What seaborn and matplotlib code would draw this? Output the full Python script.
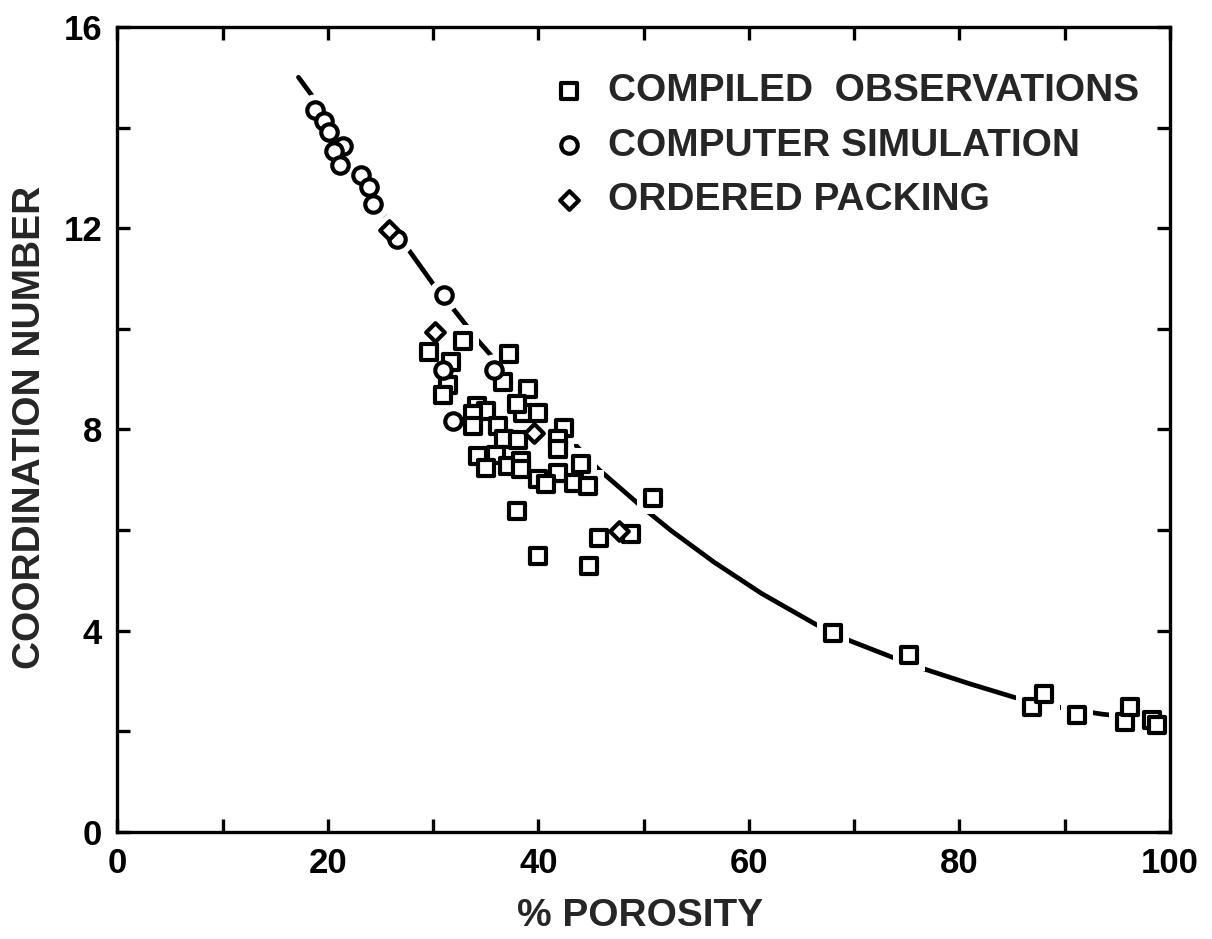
import matplotlib
matplotlib.use("Agg")
import matplotlib.pyplot as plt
import seaborn as sns

# ---------------- data ----------------
obs_x = [29.6, 32.8, 31.7, 31.4, 30.9, 37.2, 36.6, 39.0, 34.2, 35.0,
         33.8, 33.8, 36.2, 38.5, 40.0, 38.0, 42.4, 41.9, 41.9, 36.7,
         38.1, 34.3, 36.0, 35.0, 37.1, 38.3, 38.3, 44.0, 41.9, 40.0,
         40.7, 43.4, 44.7, 50.9, 38.0, 45.8, 48.8, 40.0, 44.8,
         68.0, 75.2, 86.9, 88.0, 91.2, 95.7, 96.2, 98.3, 98.8]
obs_y = [9.54, 9.76, 9.35, 8.89, 8.69, 9.49, 8.95, 8.81, 8.46, 8.36,
         8.30, 8.06, 8.06, 8.32, 8.32, 8.51, 8.02, 7.82, 7.62, 7.82,
         7.80, 7.47, 7.50, 7.23, 7.27, 7.37, 7.21, 7.31, 7.13, 7.01,
         6.91, 6.93, 6.87, 6.63, 6.38, 5.84, 5.92, 5.49, 5.29,
         3.96, 3.52, 2.48, 2.75, 2.32, 2.18, 2.48, 2.22, 2.12]

sim_x = [18.8, 19.6, 20.1, 21.4, 20.6, 21.1, 23.1, 23.9, 24.3, 26.6,
         31.0, 30.9, 35.8, 31.9]
sim_y = [14.34, 14.14, 13.92, 13.64, 13.54, 13.25, 13.05, 12.81, 12.48, 11.78,
         10.67, 9.19, 9.19, 8.16]

ord_x = [25.8, 30.2, 39.6, 47.7]
ord_y = [11.96, 9.94, 7.92, 5.98]

curve_x = [17.2, 18.5, 20.5, 22.5, 24.3, 25.3, 27.7, 30.2, 31.9, 33.1,
           34.2, 35.8, 45.7, 50.0, 52.6, 56.7, 61.2, 66.4, 69.6,
           73.4, 76.2, 80.9, 85.3, 88.8, 93.6, 97.5]
curve_y = [15.0, 14.63, 13.88, 13.13, 12.45, 12.28, 11.56, 10.83, 10.40, 10.08,
           9.78, 9.40, 7.21, 6.43, 5.99, 5.36, 4.74, 4.12, 3.80,
           3.49, 3.27, 2.95, 2.67, 2.50, 2.34, 2.26]

labels = ["COMPILED  OBSERVATIONS", "COMPUTER SIMULATION", "ORDERED PACKING"]
xticks = list(range(0, 101, 10))
xticklabels = ["0", "", "20", "", "40", "", "60", "", "80", "", "100"]
yticks = list(range(0, 17, 2))
yticklabels = ["0", "", "4", "", "8", "", "12", "", "16"]

# ---------------- style ----------------
sns.set_style("ticks")
plt.rcParams["font.family"] = ["Liberation Sans", "DejaVu Sans"]
plt.rcParams["font.weight"] = "bold"

fig = plt.figure(figsize=(12.12, 9.39), dpi=100)
ax = fig.add_axes([0.0969, 0.114, 0.8684, 0.8573])

LW_EDGE = 3.0
# curve
sns.lineplot(x=curve_x, y=curve_y, sort=False, estimator=None, color="black",
             linewidth=3.4, ax=ax, zorder=1.5)

# white halos that break the curve around the markers
sns.scatterplot(x=obs_x, y=obs_y, marker="s", s=500, color="white",
                edgecolor="white", linewidth=0, ax=ax, zorder=1.8, legend=False)
sns.scatterplot(x=sim_x, y=sim_y, marker="o", s=540, color="white",
                edgecolor="white", linewidth=0, ax=ax, zorder=1.8, legend=False)
sns.scatterplot(x=ord_x, y=ord_y, marker="D", s=380, color="white",
                edgecolor="white", linewidth=0, ax=ax, zorder=1.8, legend=False)

# markers
sns.scatterplot(x=obs_x, y=obs_y, marker="s", s=135, color="white",
                edgecolor="black", linewidth=LW_EDGE, ax=ax, zorder=2.1,
                label=labels[0])
sns.scatterplot(x=sim_x, y=sim_y, marker="o", s=140, color="white",
                edgecolor="black", linewidth=LW_EDGE, ax=ax, zorder=2.1,
                label=labels[1])
sns.scatterplot(x=ord_x, y=ord_y, marker="D", s=90, color="white",
                edgecolor="black", linewidth=LW_EDGE, ax=ax, zorder=2.1,
                label=labels[2])

ax.set_xlim(0, 100)
ax.set_ylim(0, 16)
ax.set_xticks(xticks)
ax.set_xticklabels(xticklabels)
ax.set_yticks(yticks)
ax.set_yticklabels(yticklabels)
ax.tick_params(direction="in", top=True, right=True, length=9.5, width=2.4,
               labelsize=25, pad=11, color="black", labelcolor="black")
for sp in ax.spines.values():
    sp.set_visible(True)
    sp.set_linewidth(2.4)
    sp.set_color("black")
    sp.set_zorder(3)

ax.set_xlabel("% POROSITY", fontsize=28, fontweight="bold")
ax.set_ylabel("COORDINATION NUMBER", fontsize=28, fontweight="bold")
ax.xaxis.label.set_va("center")
ax.yaxis.label.set_va("center")
ax.xaxis.set_label_coords(0.497, -0.1043)
ax.yaxis.set_label_coords(-0.083, 0.502)

leg = ax.legend(loc="upper left", bbox_to_anchor=(550 / 1212, 1 - 73 / 939),
                bbox_transform=fig.transFigure, frameon=False,
                fontsize=28, borderpad=0, borderaxespad=0,
                handlelength=1.0, handletextpad=0.48, labelspacing=0.48,
                scatterpoints=1)
for t in leg.get_texts():
    t.set_fontweight("bold")

fig.savefig("out.png", dpi=100)
